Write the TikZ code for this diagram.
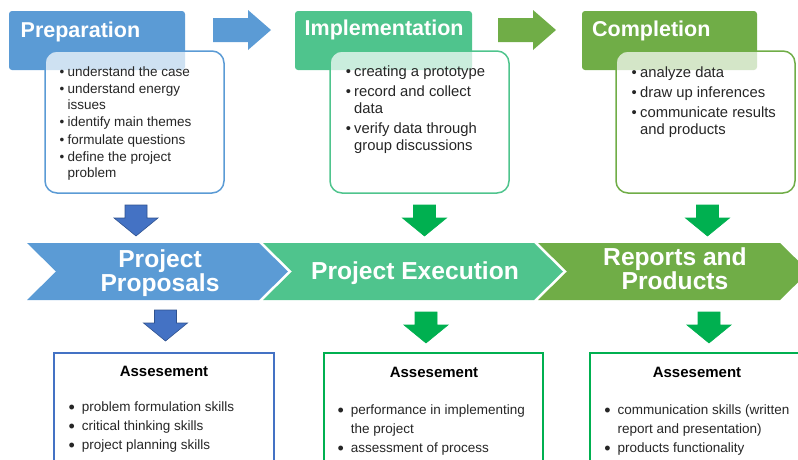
\documentclass[tikz,border=0pt]{standalone}
\usepackage{fontspec}
\setmainfont{Liberation Sans}
\usetikzlibrary{positioning}

\definecolor{prepblue}{HTML}{5B9BD5}
\definecolor{implgreen}{HTML}{4FC48D}
\definecolor{complgreen}{HTML}{70AD47}
\definecolor{downblue}{HTML}{4472C4}
\definecolor{downblueline}{HTML}{2F528F}
\definecolor{downgreen}{HTML}{00B050}
\definecolor{bodytext}{HTML}{262626}

\newcommand{\bigbul}{\raisebox{-1.5pt}{\fontsize{18}{18}\selectfont\textbullet}}

\tikzset{
	headtitle/.style={anchor=base west,inner sep=0pt,text=white,font=\fontsize{21.5}{24}\selectfont\bfseries},
	cardlist/.style={anchor=base west,inner sep=0pt,text=bodytext},
	bandlabel/.style={inner sep=0pt,text=white,align=center,font=\fontsize{24.6}{24}\selectfont\bfseries},
	asstitle/.style={anchor=base,inner sep=0pt,text=black,font=\fontsize{15}{18}\selectfont\bfseries},
	asslist/.style={anchor=base west,inner sep=0pt,text=bodytext,font=\fontsize{13.5}{19}\selectfont},
}

\begin{document}
\begin{tikzpicture}[x=1pt,y=-1pt]
	\clip (0,0) rectangle (798,459);
	\foreach \x/\w/\c in {9/176/prepblue,295/177/implgreen,582/175/complgreen}{
		\fill[\c,rounded corners=3pt] (\x,11) rectangle ++(\w,59);
	}
	\foreach \x/\c in {45/prepblue,330/implgreen,616/complgreen}{
		\draw[\c,line width=1.5pt,fill=white,fill opacity=0.7,rounded corners=12pt] (\x,51) rectangle ++(179,142);
	}
	\foreach \x/\c in {213/prepblue,498/complgreen}{
		\fill[\c] (\x,18) -- ++(35,0) -- ++(0,-8) -- ++(23,20) -- ++(-23,20) -- ++(0,-8) -- ++(-35,0) -- cycle;
	}
	\foreach \a/\b/\c in {27/259/prepblue,263/534/implgreen,538/780/complgreen}{
		\fill[\c] (\a,243) -- (\b,243) -- (\b+29,271.5) -- (\b,300) -- (\a,300) -- (\a+29,271.5) -- cycle;
	}
	\foreach \x/\y/\c/\l in {136/205/downblue/downblueline,424.5/205/downgreen/downgreen,707.5/205/downgreen/downgreen,165.5/310/downblue/downblueline,426/312/downgreen/downgreen,709/312/downgreen/downgreen}{
		\filldraw[fill=\c,draw=\l,line width=0.6pt] (\x-11,\y) -- (\x+11,\y) -- (\x+11,\y+13) -- (\x+22,\y+13) -- (\x,\y+31) -- (\x-22,\y+13) -- (\x-11,\y+13) -- cycle;
	}
	\foreach \x/\w/\c in {54/220/downblue,324/219/downgreen,590/209/downgreen}{
		\draw[\c,line width=1.3pt] (\x,353) rectangle ++(\w,120);
	}

	\node[headtitle] (prepTitle) at (20.5,37.3) {Preparation};
	\node[headtitle] (implTitle) at (304.5,35.3) {Implementation};
	\node[headtitle] (complTitle) at (592,36.7) {Completion};

	\node[cardlist,font=\fontsize{13.5}{15.5}\selectfont] (prepList) at (59.3,76) {\begin{tabular}[t]{@{}l@{\hspace{3.3pt}}l@{}}
		\textbullet & understand the case\\[2pt]
		\textbullet & understand energy\\
		& issues\\[2pt]
		\textbullet & identify main themes\\[2pt]
		\textbullet & formulate questions\\[2pt]
		\textbullet & define the project\\
		& problem
	\end{tabular}};
	\node[cardlist,font=\fontsize{14.8}{17}\selectfont] (implList) at (345.7,76.7) {\begin{tabular}[t]{@{}l@{\hspace{3.1pt}}l@{}}
		\textbullet & creating a prototype\\[3pt]
		\textbullet & record and collect\\
		& data\\[3pt]
		\textbullet & verify data through\\
		& group discussions
	\end{tabular}};
	\node[cardlist,font=\fontsize{14.8}{17}\selectfont] (complList) at (631.4,77.3) {\begin{tabular}[t]{@{}l@{\hspace{3.4pt}}l@{}}
		\textbullet & analyze data\\[3pt]
		\textbullet & draw up inferences\\[3pt]
		\textbullet & communicate results\\
		& and products
	\end{tabular}};

	\node[bandlabel] (proposals) at (160,273) {Project\\Proposals};
	\node[bandlabel] (execution) at (415,273) {Project Execution};
	\node[bandlabel] (reports) at (675,269) {Reports and\\Products};

	\node[asstitle] (prepAss) at (164,376) {Assesement};
	\node[asstitle] (implAss) at (434,377) {Assesement};
	\node[asstitle] (complAss) at (697,377.7) {Assesement};
	\node[asslist] (prepSkills) at (68.5,411.5) {\begin{tabular}[t]{@{}l@{\hspace{6.8pt}}l@{}}
		\bigbul & problem formulation skills\\
		\bigbul & critical thinking skills\\
		\bigbul & project planning skills
	\end{tabular}};
	\node[asslist] (implSkills) at (337.5,414.5) {\begin{tabular}[t]{@{}l@{\hspace{6.8pt}}l@{}}
		\bigbul & performance in implementing\\
		& the project\\
		\bigbul & assessment of process
	\end{tabular}};
	\node[asslist] (complSkills) at (604.2,414.5) {\begin{tabular}[t]{@{}l@{\hspace{6.8pt}}l@{}}
		\bigbul & communication skills (written\\
		& report and presentation)\\
		\bigbul & products functionality
	\end{tabular}};
\end{tikzpicture}
\end{document}
